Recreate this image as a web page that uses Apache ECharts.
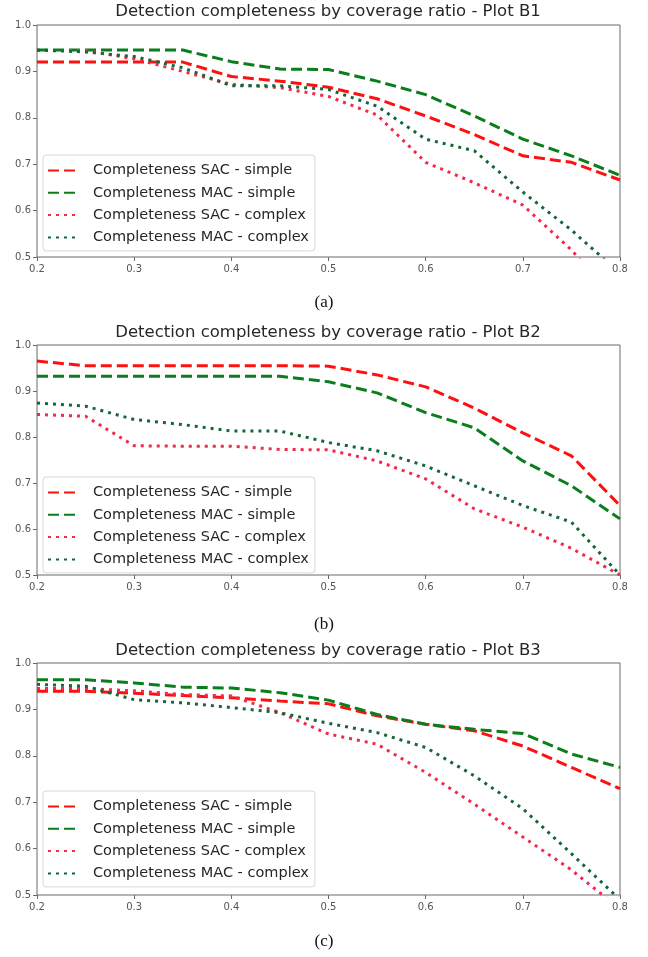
<!DOCTYPE html>
<html>
<head>
<meta charset="utf-8">
<script src="https://cdn.jsdelivr.net/npm/echarts@6/dist/echarts.min.js"></script>
<style>
  html, body { margin: 0; padding: 0; background: #fff; }
  #chart { width: 648px; height: 957px; }
</style>
</head>
<body>
<div id="chart"></div>
<script>
// coverage ratio (x axis)
const coverage = [0.2, 0.25, 0.3, 0.35, 0.4, 0.45, 0.5, 0.55, 0.6, 0.65, 0.7, 0.75, 0.8]
const xTicks = [0.2, 0.3, 0.4, 0.5, 0.6, 0.7, 0.8]
const yTicks = [0.5, 0.6, 0.7, 0.8, 0.9, 1.0]

const seriesNames = [
  'Completeness SAC - simple',
  'Completeness MAC - simple',
  'Completeness SAC - complex',
  'Completeness MAC - complex'
]
const plotTitles = [
  'Detection completeness by coverage ratio - Plot B1',
  'Detection completeness by coverage ratio - Plot B2',
  'Detection completeness by coverage ratio - Plot B3'
]
const captions = ['(a)', '(b)', '(c)']

// Plot B1
const b1SacSimple  = [0.92, 0.92, 0.92, 0.92, 0.889, 0.879, 0.866, 0.841, 0.804, 0.764, 0.718, 0.704, 0.666]
const b1MacSimple  = [0.946, 0.946, 0.946, 0.946, 0.921, 0.905, 0.904, 0.879, 0.85, 0.804, 0.754, 0.718, 0.676]
const b1SacComplex = [0.945, 0.945, 0.927, 0.9, 0.872, 0.865, 0.846, 0.806, 0.704, 0.66, 0.612, 0.515, 0.40]
const b1MacComplex = [0.946, 0.942, 0.932, 0.908, 0.869, 0.869, 0.861, 0.825, 0.754, 0.729, 0.64, 0.558, 0.465]

// Plot B2
const b2SacSimple  = [0.965, 0.955, 0.955, 0.955, 0.955, 0.955, 0.954, 0.935, 0.909, 0.863, 0.809, 0.759, 0.651]
const b2MacSimple  = [0.932, 0.932, 0.932, 0.932, 0.932, 0.932, 0.92, 0.896, 0.853, 0.82, 0.748, 0.694, 0.622]
const b2SacComplex = [0.849, 0.845, 0.781, 0.78, 0.78, 0.773, 0.772, 0.748, 0.709, 0.644, 0.604, 0.558, 0.5]
const b2MacComplex = [0.874, 0.867, 0.838, 0.827, 0.813, 0.813, 0.788, 0.77, 0.737, 0.694, 0.651, 0.615, 0.5]

// Plot B3
const b3SacSimple  = [0.939, 0.939, 0.935, 0.93, 0.925, 0.918, 0.912, 0.886, 0.868, 0.854, 0.821, 0.775, 0.729]
const b3MacSimple  = [0.964, 0.964, 0.957, 0.948, 0.946, 0.936, 0.92, 0.889, 0.868, 0.857, 0.848, 0.804, 0.775]
const b3SacComplex = [0.945, 0.945, 0.94, 0.932, 0.929, 0.893, 0.847, 0.825, 0.764, 0.696, 0.625, 0.554, 0.47]
const b3MacComplex = [0.954, 0.95, 0.921, 0.914, 0.904, 0.893, 0.87, 0.85, 0.818, 0.757, 0.686, 0.589, 0.49]

const plots = [
  [b1SacSimple, b1MacSimple, b1SacComplex, b1MacComplex],
  [b2SacSimple, b2MacSimple, b2SacComplex, b2MacComplex],
  [b3SacSimple, b3MacSimple, b3SacComplex, b3MacComplex]
]

// layout of the three panels
const gridTops = [25, 345, 663]
const gridHeights = [232, 230, 232]
const titleTops = [3, 324, 642]
const captionTops = [294, 616, 933]
const legendTops = [155, 477, 791]

const lineColors = ['#ff1010', '#0a7d1c', '#f5284a', '#16663a']
const lineTypes = [[11, 5], [11, 5], [3, 5], [3, 5]]

const font = 'DejaVu Sans'

const chart = echarts.init(document.getElementById('chart'))

const titles = []
const grids = []
const xAxes = []
const yAxes = []
const legends = []
const series = []

plots.forEach((plot, p) => {
  titles.push({
    text: plotTitles[p],
    left: 328, top: titleTops[p], textAlign: 'center', padding: 0,
    textStyle: { fontFamily: font, fontSize: 16.5, fontWeight: 'normal', color: '#262626' }
  })
  titles.push({
    text: captions[p],
    left: 324, top: captionTops[p], textAlign: 'center', padding: 0,
    textStyle: { fontFamily: 'Liberation Serif', fontSize: 17, fontWeight: 'normal', color: '#111' }
  })
  grids.push({
    left: 37, top: gridTops[p], width: 583, height: gridHeights[p],
    show: true, borderColor: '#6a6a6a', borderWidth: 1, backgroundColor: '#fff'
  })
  xAxes.push({
    type: 'value', gridIndex: p, min: 0.2, max: 0.8, interval: 0.1,
    axisLine: { show: false },
    axisTick: { show: true, length: 4, lineStyle: { color: '#6a6a6a' } },
    splitLine: { show: false },
    axisLabel: {
      margin: 7, fontFamily: font, fontSize: 10, color: '#555',
      formatter: v => xTicks.find(t => Math.abs(t - v) < 1e-6).toFixed(1)
    }
  })
  yAxes.push({
    type: 'value', gridIndex: p, min: 0.5, max: 1.0, interval: 0.1,
    axisLine: { show: false },
    axisTick: { show: true, length: 4, lineStyle: { color: '#6a6a6a' } },
    splitLine: { show: false },
    axisLabel: {
      margin: 6, fontFamily: font, fontSize: 10, color: '#555',
      formatter: v => yTicks.find(t => Math.abs(t - v) < 1e-6).toFixed(1)
    }
  })
  legends.push({
    orient: 'vertical', left: 43, top: legendTops[p],
    data: seriesNames,
    itemWidth: 31, itemHeight: 14, itemGap: 7.3,
    padding: [8, 6, 6, 4],
    borderColor: '#d8d8d8', borderWidth: 1, borderRadius: 3,
    backgroundColor: 'rgba(255,255,255,0.85)',
    selectedMode: false,
    // hide the marker dot, keep only the dashed / dotted line sample
    itemStyle: { color: 'rgba(0,0,0,0)', borderColor: 'rgba(0,0,0,0)', borderWidth: 0 },
    textStyle: { fontFamily: font, fontSize: 14.5, color: '#262626', padding: [0, 0, 0, 9] }
  })
  plot.forEach((vals, s) => {
    series.push({
      name: seriesNames[s], type: 'line',
      xAxisIndex: p, yAxisIndex: p,
      data: coverage.map((x, i) => [x, vals[i]]),
      showSymbol: false, symbol: 'none',
      clip: true, animation: false,
      lineStyle: { color: lineColors[s], width: 3, type: lineTypes[s], cap: 'butt' },
      itemStyle: { color: lineColors[s] }
    })
  })
})

chart.setOption({
  backgroundColor: '#fff',
  animation: false,
  title: titles,
  grid: grids,
  xAxis: xAxes,
  yAxis: yAxes,
  legend: legends,
  series: series
})
</script>
</body>
</html>
